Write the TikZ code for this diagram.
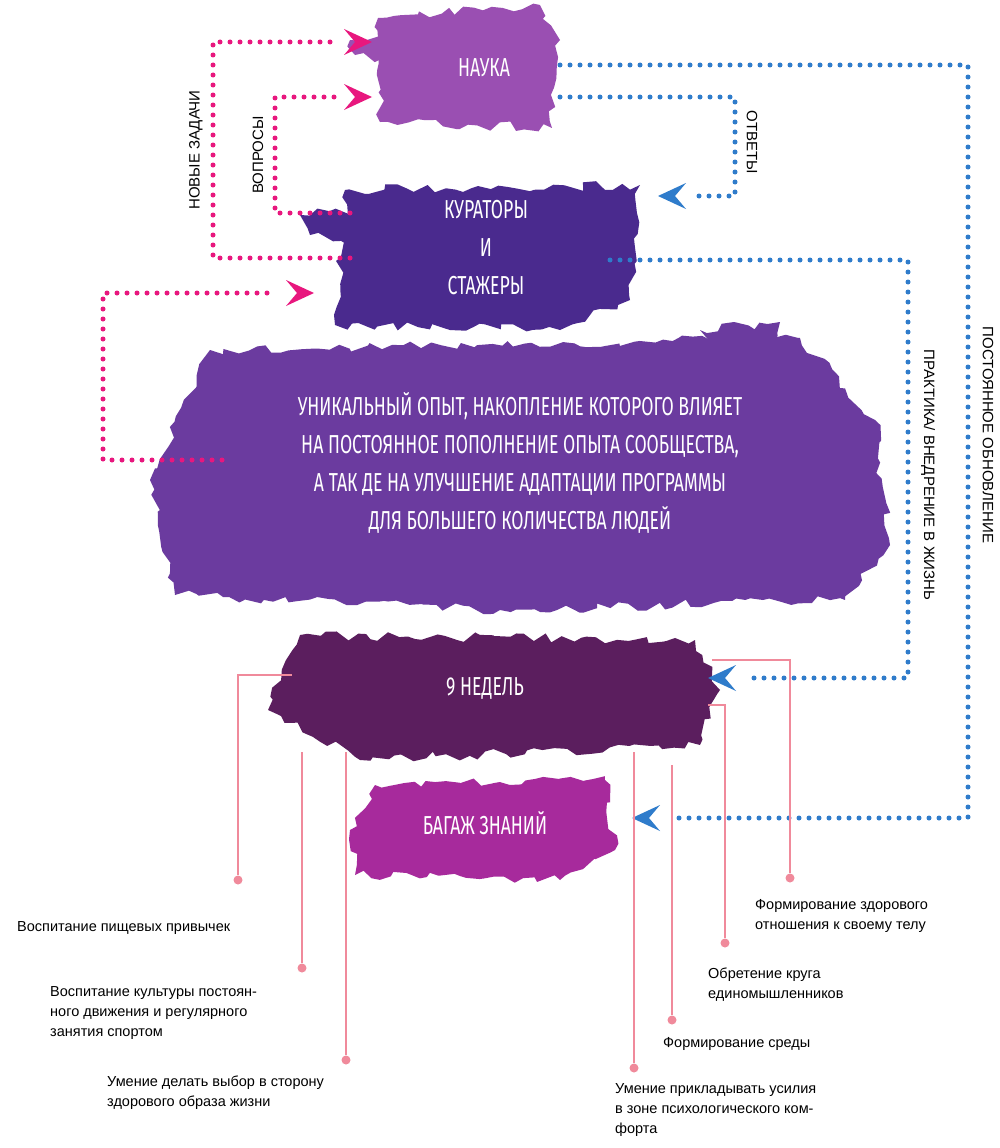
\documentclass[tikz,border=0pt]{standalone}
\usepackage{fontspec}
\setmainfont{Liberation Sans}
\newfontfamily\capsfont[FakeStretch=0.68]{Fira Sans}
\usetikzlibrary{arrows.meta,decorations.pathmorphing}
\definecolor{pinkdot}{HTML}{E8177E}
\definecolor{bluedot}{HTML}{2F7CCB}
\definecolor{pline}{HTML}{F08A9B}
\definecolor{cNauka}{HTML}{9A4FB2}
\definecolor{cKur}{HTML}{4A2A8E}
\definecolor{cBig}{HTML}{6B3B9F}
\definecolor{cNed}{HTML}{5B1E5E}
\definecolor{cBag}{HTML}{A72A9C}
\begin{document}
\begin{tikzpicture}[x=1pt,y=-1pt,
  brush/.style={decorate,decoration={random steps,segment length=9pt,amplitude=5pt}},
  btext/.style={text=white,font=\capsfont\fontsize{26}{38}\selectfont,align=center},
  pdot/.style={pinkdot,line width=5pt,dash pattern=on 0pt off 10pt,line cap=round},
  bdot/.style={bluedot,line width=5pt,dash pattern=on 0pt off 10pt,line cap=round},
  chevR/.pic={\fill (0,0) -- (-28,-13) -- (-17,0) -- (-28,13) -- cycle;},
  chevL/.pic={\fill (0,0) -- (28,-13) -- (17,0) -- (28,13) -- cycle;},
  pl/.style={pline,line width=1.5pt},
  dotend/.style={circle,fill=pline,inner sep=0pt,minimum size=9pt},
  lbl/.style={font=\fontsize{14.5}{20}\selectfont,align=left,anchor=north west,inner sep=0pt},
  vlbl/.style={font=\fontsize{15}{16}\selectfont,inner sep=0pt}]
\useasboundingbox (0,0) rectangle (1000,1148);
\fill[white] (0,0) rectangle (1000,1148);
% blobs
\fill[cNauka,brush] (378,18) -- (540,5) -- (560,40) -- (552,128) -- (380,122) -- cycle;
\fill[cNauka,brush] (350,40) -- (400,35) -- (400,60) -- (355,55) -- cycle;
\fill[cKur,brush] (345,190) -- (640,185) -- (630,300) -- (560,330) -- (335,325) -- cycle;
\fill[cKur,brush] (300,215) -- (360,210) -- (355,240) -- (310,235) -- cycle;
\fill[cBig,brush] (210,350) -- (800,338) -- (875,420) -- (890,545) -- (845,600) -- (500,610) -- (175,595) -- (150,480) -- cycle;
\fill[cBig,brush] (700,330) -- (780,322) -- (770,350) -- (710,350) -- cycle;
\fill[cNed,brush] (300,635) -- (695,640) -- (720,690) -- (700,745) -- (360,760) -- (268,710) -- cycle;
\fill[cBag,brush] (375,785) -- (605,780) -- (615,850) -- (560,880) -- (355,875) -- (350,830) -- cycle;
\node[btext] (nauka) at (484,68) {НАУКА};
\node[btext] (kur) at (486,248) {КУРАТОРЫ\\И\\СТАЖЕРЫ};
\node[btext] (big) at (520,463) {УНИКАЛЬНЫЙ ОПЫТ, НАКОПЛЕНИЕ КОТОРОГО ВЛИЯЕТ\\НА ПОСТОЯННОЕ ПОПОЛНЕНИЕ ОПЫТА СООБЩЕСТВА,\\А ТАК ДЕ НА УЛУЧШЕНИЕ АДАПТАЦИИ ПРОГРАММЫ\\ДЛЯ БОЛЬШЕГО КОЛИЧЕСТВА ЛЮДЕЙ};
\node[btext] (ned) at (485,688) {9 НЕДЕЛЬ};
\node[btext] (bag) at (485,823) {БАГАЖ ЗНАНИЙ};
% coordinates
\coordinate (nA1) at (372,42); \coordinate (nA2) at (372,97);
\coordinate (kS1) at (350,258); \coordinate (kS2) at (350,213);
\coordinate (kA) at (314,293); \coordinate (bS) at (222,460);
\coordinate (nB1) at (560,65); \coordinate (nB2) at (560,97);
\coordinate (kB) at (658,196); \coordinate (kB2) at (610,260);
\coordinate (nedB) at (708,678); \coordinate (bagB) at (632,818);
% pink dotted
\draw[pdot] (kS1) -- (213,258) -- (213,42) -- (335,42);
\pic[pinkdot] at (nA1) {chevR};
\draw[pdot] (kS2) -- (275,213) -- (275,97) -- (335,97);
\pic[pinkdot] at (nA2) {chevR};
\draw[pdot] (bS) -- (103,460) -- (103,293) -- (277,293);
\pic[pinkdot] at (kA) {chevR};
% blue dotted
\draw[bdot] (nB2) -- (735,97) -- (735,196) -- (695,196);
\pic[bluedot] at (kB) {chevL};
\draw[bdot] (nB1) -- (968,65) -- (968,818) -- (670,818);
\pic[bluedot] at (bagB) {chevL};
\draw[bdot] (kB2) -- (908,260) -- (908,678) -- (746,678);
\pic[bluedot] at (nedB) {chevL};
% labels rotated
\node[vlbl,rotate=90] (l1) at (196,150) {НОВЫЕ ЗАДАЧИ};
\node[vlbl,rotate=90] (l2) at (258,155) {ВОПРОСЫ};
\node[vlbl,rotate=-90] (l3) at (752,142) {ОТВЕТЫ};
\node[vlbl,rotate=-90] (l4) at (988,435) {ПОСТОЯННОЕ ОБНОВЛЕНИЕ};
\node[vlbl,rotate=-90] (l5) at (928,475) {ПРАКТИКА/ ВНЕДРЕНИЕ В ЖИЗНЬ};
% pink lines
\node[dotend] (d1) at (238,880) {}; \draw[pl] (292,675) -- (238,675) -- (d1);
\node[dotend] (d2) at (302,968) {}; \draw[pl] (302,752) -- (d2);
\node[dotend] (d3) at (346,1060) {}; \draw[pl] (346,752) -- (d3);
\node[dotend] (d4) at (790,878) {}; \draw[pl] (712,660) -- (790,660) -- (d4);
\node[dotend] (d5) at (725,943) {}; \draw[pl] (708,705) -- (725,705) -- (d5);
\node[dotend] (d6) at (672,1020) {}; \draw[pl] (672,765) -- (d6);
\node[dotend] (d7) at (634,1068) {}; \draw[pl] (634,752) -- (d7);
\node[lbl] (t1) at (17,921) {Воспитание пищевых привычек};
\node[lbl] (t2) at (50,986) {Воспитание культуры постоян-\\ного движения и регулярного\\занятия спортом};
\node[lbl] (t3) at (107,1076) {Умение делать выбор в сторону\\здорового образа жизни};
\node[lbl] (t4) at (755,899) {Формирование здорового\\отношения к своему телу};
\node[lbl] (t5) at (708,968) {Обретение круга\\единомышленников};
\node[lbl] (t6) at (663,1037) {Формирование среды};
\node[lbl] (t7) at (615,1083) {Умение прикладывать усилия\\в зоне психологического ком-\\форта};
\end{tikzpicture}
\end{document}
